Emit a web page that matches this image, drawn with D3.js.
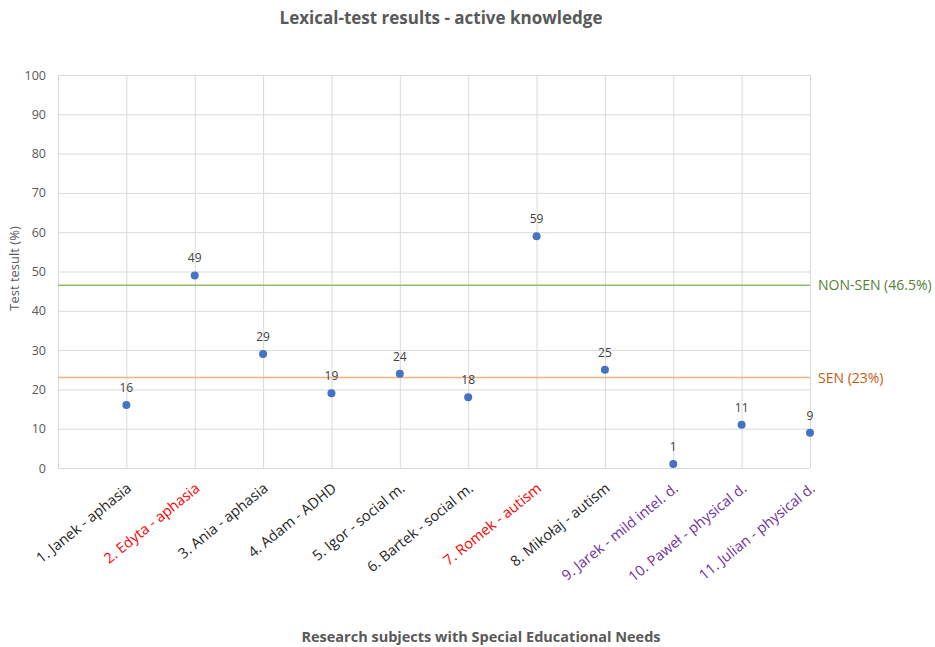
<!DOCTYPE html>
<html>
<head>
<meta charset="utf-8">
<script src="https://cdn.jsdelivr.net/npm/d3@7"></script>
<style>
  html, body { margin: 0; padding: 0; background: #fff; }
  svg { display: block; font-family: "Open Sans", "Noto Sans", sans-serif; }
</style>
</head>
<body>
<svg id="chart" width="935" height="647"></svg>
<script>
// Subjects (x positions 1..11) and their lexical-test scores
const subjects = [
  "1. Janek - aphasia", "2. Edyta - aphasia", "3. Ania - aphasia",
  "4. Adam - ADHD", "5. Igor - social m.", "6. Bartek - social m.",
  "7. Romek - autism", "8. Mikołaj - autism", "9. Jarek - mild intel. d.",
  "10. Paweł - physical d.", "11. Julian - physical d."
];
const scores = [16, 49, 29, 19, 24, 18, 59, 25, 1, 11, 9];
const groups = ["sen", "highlight", "sen", "sen", "sen", "sen", "highlight", "sen", "other", "other", "other"];
const yTicks = [0, 10, 20, 30, 40, 50, 60, 70, 80, 90, 100];
const xTicks = [0, 1, 2, 3, 4, 5, 6, 7, 8, 9, 10, 11];

// Reference averages
const refNames = ["NON-SEN (46.5%)", "SEN (23%)"];
const refValues = [46.5, 23];
const refColors = ["#8CC168", "#F4B183"];
const refTextColors = ["#548235", "#C55A11"];

const labelColor = { sen: "#262626", highlight: "#FF0000", other: "#7030A0" };

const svg = d3.select("#chart");
const m = { left: 58, right: 810, top: 75, bottom: 468 };

const x = d3.scaleLinear().domain([0, 11]).range([m.left, m.right]);
const y = d3.scaleLinear().domain([0, 100]).range([m.bottom, m.top]);

// Title
svg.append("text")
  .attr("x", 441).attr("y", 24)
  .attr("text-anchor", "middle")
  .attr("font-size", 17).attr("font-weight", 700)
  .attr("fill", "#595959")
  .text("Lexical-test results - active knowledge");

// Horizontal gridlines + y tick labels
const yAxis = d3.axisLeft(y).tickValues(yTicks).tickSize(-(m.right - m.left)).tickPadding(12);
const gy = svg.append("g").attr("transform", `translate(${m.left},0)`).call(yAxis);
gy.select(".domain").remove();
gy.selectAll(".tick line").attr("stroke", "#d9d9d9").attr("stroke-width", 1);
gy.selectAll(".tick text").attr("fill", "#595959").attr("font-size", 12.5)
  .attr("font-family", "Open Sans, sans-serif");

// Vertical gridlines
const xAxis = d3.axisBottom(x).tickValues(xTicks).tickSize(-(m.bottom - m.top)).tickFormat("");
const gx = svg.append("g").attr("transform", `translate(0,${m.bottom})`).call(xAxis);
gx.select(".domain").remove();
gx.selectAll(".tick line").attr("stroke", "#d9d9d9").attr("stroke-width", 1);

// Reference lines
refValues.forEach((v, i) => {
  svg.append("line")
    .attr("x1", m.left).attr("x2", m.right)
    .attr("y1", y(v)).attr("y2", y(v))
    .attr("stroke", refColors[i]).attr("stroke-width", 1.5);
  svg.append("text")
    .attr("x", 818).attr("y", y(v))
    .attr("dy", "0.35em")
    .attr("font-size", 14)
    .attr("fill", refTextColors[i])
    .text(refNames[i]);
});

// Points
svg.append("g").selectAll("circle")
  .data(scores)
  .join("circle")
  .attr("cx", (d, i) => x(i + 1))
  .attr("cy", d => y(d))
  .attr("r", 4)
  .attr("fill", "#4472C4");

// Data labels
svg.append("g").selectAll("text")
  .data(scores)
  .join("text")
  .attr("x", (d, i) => x(i + 1))
  .attr("y", d => y(d) - 13)
  .attr("text-anchor", "middle")
  .attr("font-size", 12)
  .attr("fill", "#404040")
  .text(d => d);

// Category labels, rotated
svg.append("g").selectAll("text")
  .data(subjects)
  .join("text")
  .attr("transform", (d, i) => `translate(${x(i + 1) + 6},${m.bottom + 22}) rotate(-39)`)
  .attr("text-anchor", "end")
  .attr("font-size", 14.5)
  .attr("fill", (d, i) => labelColor[groups[i]])
  .text(d => d);

// Axis titles
svg.append("text")
  .attr("transform", `translate(19,${(m.top + m.bottom) / 2 - 3}) rotate(-90)`)
  .attr("text-anchor", "middle")
  .attr("font-size", 13)
  .attr("fill", "#595959")
  .text("Test tesult (%)");

svg.append("text")
  .attr("x", 481).attr("y", 642)
  .attr("text-anchor", "middle")
  .attr("font-size", 14.5).attr("font-weight", 700)
  .attr("fill", "#595959")
  .text("Research subjects with Special Educational Needs");
</script>
</body>
</html>
